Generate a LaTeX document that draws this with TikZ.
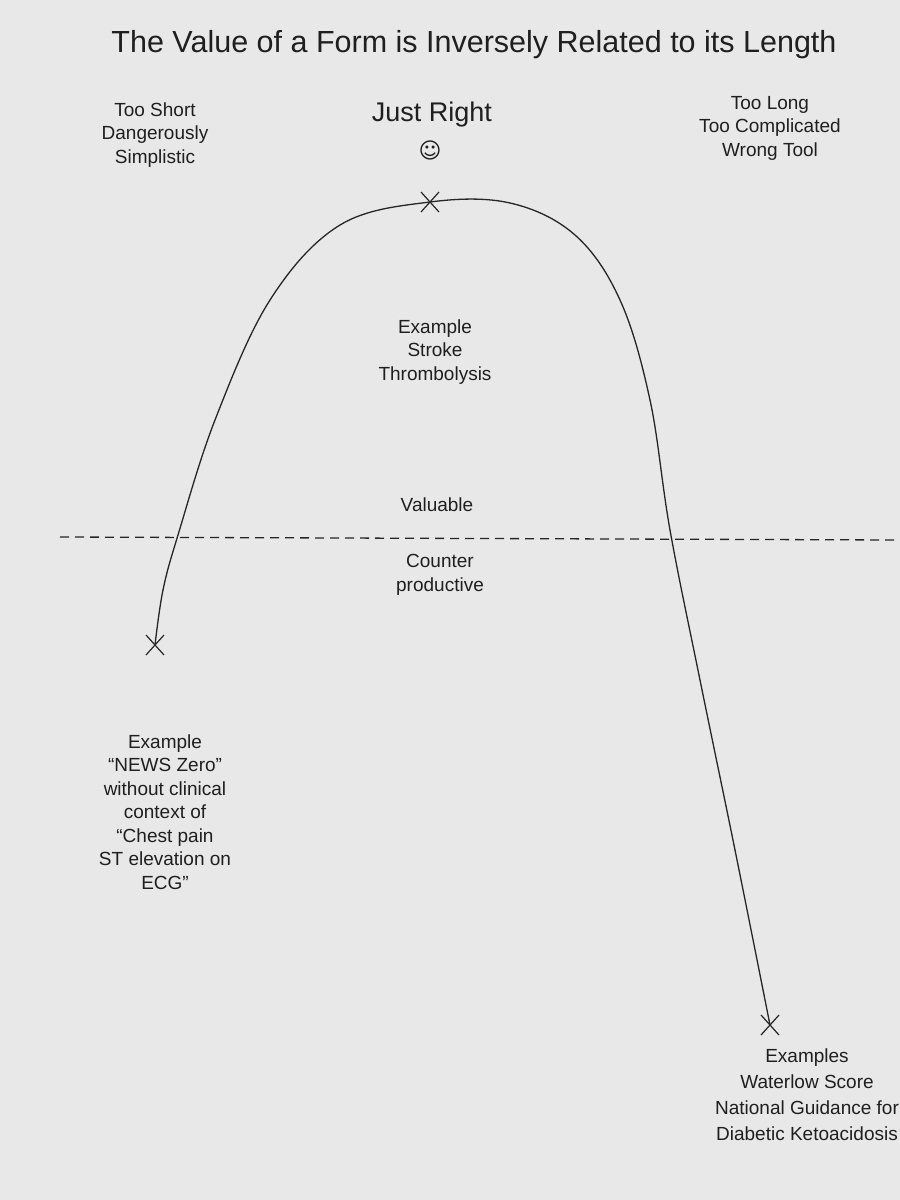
\documentclass[tikz,border=0pt]{standalone}
\usepackage{fontspec}
\setmainfont{Liberation Sans}
\newfontfamily\dejavu{DejaVu Sans}
\begin{document}
\begin{tikzpicture}[x=1pt,y=-1pt,
  lbl/.style={align=center,font=\fontsize{19}{23.5}\selectfont,inner sep=0pt,text=black!88},
  xmark/.style={draw=black!85,line width=1.2pt}]
\clip (0,0) rectangle (900,1200);
\fill[black!9] (0,0) rectangle (900,1200);
\node[lbl,font=\fontsize{30.5}{34}\selectfont] (title) at (474,45) {The Value of a Form is Inversely Related to its Length};
\node[lbl] (short) at (155,135) {Too Short\\Dangerously\\Simplistic};
\node[lbl,font=\fontsize{27}{32}\selectfont] (right) at (432,115) {Just Right};
\node[lbl,font=\dejavu\fontsize{22}{26}\selectfont] (smile) at (430,150) {☺};
\node[lbl] (long) at (770,128) {Too Long\\Too Complicated\\Wrong Tool};
\node[lbl] (stroke) at (435,352) {Example\\Stroke\\Thrombolysis};
\node[lbl] (val) at (437,505) {Valuable};
\node[lbl] (counter) at (440,575) {Counter\\productive};
\node[lbl] (news) at (165,812) {Example\\``NEWS Zero''\\without clinical\\context of\\``Chest pain\\ST elevation on\\ECG''};
\node[lbl,font=\fontsize{19}{26}\selectfont] (exs) at (807,1095) {Examples\\Waterlow Score\\National Guidance for\\Diabetic Ketoacidosis};
\draw[black!85,dash pattern=on 9pt off 6pt,line width=1.3pt] (60,537) -- (900,540);
\draw[black!85,line width=1.3pt] plot[smooth,tension=0.6] coordinates {(155,645) (163,590) (178,535) (215,420) (270,300) (340,225) (430,202) (510,203) (575,235) (620,300) (650,400) (670,530) (700,680) (735,850) (770,1025)};
\coordinate (p1) at (155,645);
\coordinate (p2) at (430,202);
\coordinate (p3) at (770,1025);
\foreach \p in {p1,p2,p3}{
  \draw[xmark] ([shift={(-9,-10)}]\p) -- ([shift={(9,10)}]\p);
  \draw[xmark] ([shift={(-9,10)}]\p) -- ([shift={(9,-10)}]\p);
}
\end{tikzpicture}
\end{document}
